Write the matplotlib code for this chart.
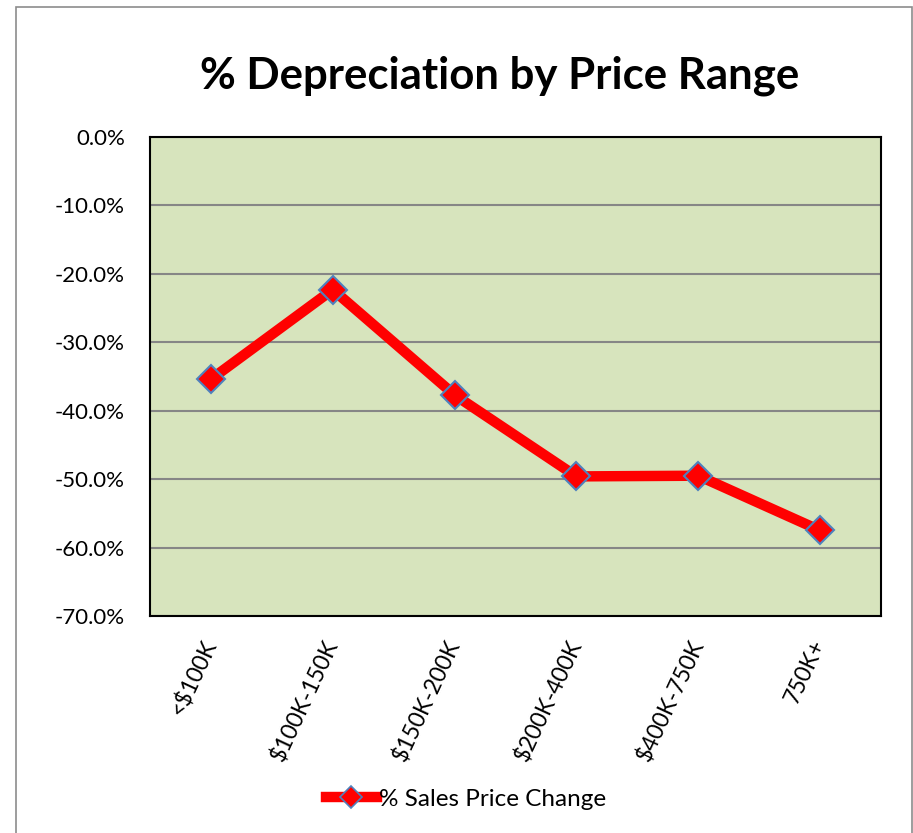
import matplotlib
matplotlib.use("Agg")
import matplotlib.pyplot as plt
from matplotlib.patches import Rectangle
from matplotlib.ticker import FuncFormatter
from matplotlib.lines import Line2D

categories = ["<$100K", "$100K-150K", "$150K-200K", "$200K-400K", "$400K-750K", "750K+"]
values = [-35.4, -22.3, -37.7, -49.6, -49.5, -57.5]
series_name = "% Sales Price Change"
title = "% Depreciation by Price Range"
yticks = [0, -10, -20, -30, -40, -50, -60, -70]

plt.rcParams['font.family'] = ['Lato', 'DejaVu Sans']

W, H = 913, 833
fig = plt.figure(figsize=(W / 100, H / 100), dpi=100)

# outer chart border
fig.patches.append(Rectangle((16 / W, -0.01), (912 - 16) / W, 1 - 7 / H + 0.01,
                             transform=fig.transFigure, fill=False,
                             edgecolor="#8c8c8c", linewidth=1.2))

left, right, top, bottom = 150, 881, 137, 616
ax = fig.add_axes([left / W, 1 - bottom / H, (right - left) / W, (bottom - top) / H])
ax.set_facecolor("#D7E4BD")

x = list(range(len(categories)))
ax.plot(x, values, color="#FF0000", linewidth=7.5, marker="D", markersize=14,
        markerfacecolor="#FF0000", markeredgecolor="#4F81BD", markeredgewidth=1.5,
        solid_capstyle="butt", zorder=3)

ax.set_xlim(-0.5, len(categories) - 0.5)
ax.set_ylim(-70, 0)
ax.set_yticks(yticks)
ax.yaxis.set_major_formatter(FuncFormatter(lambda v, p: f"{v:.1f}%"))
ax.grid(axis="y", color="#868686", linewidth=1.5)
ax.set_axisbelow(True)

ax.set_xticks(x)
ax.set_xticklabels(categories, rotation=65, ha="right", va="center",
                   rotation_mode="anchor", fontsize=16.5)
ax.tick_params(axis="x", length=0, pad=18)
ax.tick_params(axis="y", length=0, pad=18, labelsize=16)
for s in ax.spines.values():
    s.set_color("black")
    s.set_linewidth(1.5)

fig.text(500 / W, 1 - 76 / H, title, ha="center", va="center",
         fontsize=31.5, fontweight="bold")

handle = Line2D([], [], color="#FF0000", linewidth=7.5, marker="D", markersize=11,
                markerfacecolor="#FF0000", markeredgecolor="#4F81BD", markeredgewidth=1.2)
fig.legend([handle], [series_name], loc="center", bbox_to_anchor=(466 / W, 1 - 799 / H),
           frameon=False, fontsize=17.5, handlelength=2.1, handletextpad=0.1)

fig.savefig("out.png", dpi=100)
